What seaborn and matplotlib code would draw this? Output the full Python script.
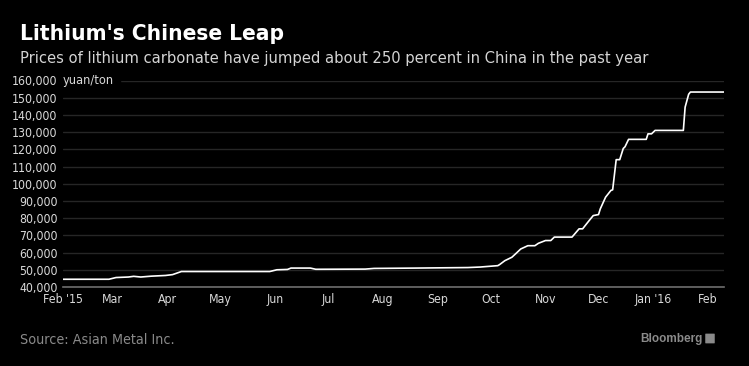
import pandas as pd
import matplotlib
matplotlib.use("Agg")
import matplotlib.pyplot as plt
from matplotlib.patches import FancyBboxPatch
import seaborn as sns

# price of lithium carbonate in China, yuan/ton
dates = [
    "2015-02-01", "2015-02-27", "2015-03-03", "2015-03-10", "2015-03-13",
    "2015-03-17", "2015-03-23", "2015-03-31", "2015-04-04", "2015-04-09",
    "2015-05-29", "2015-06-02", "2015-06-08", "2015-06-10", "2015-06-21",
    "2015-06-24", "2015-07-22", "2015-07-27", "2015-08-20", "2015-09-18",
    "2015-09-25", "2015-10-05", "2015-10-06", "2015-10-09", "2015-10-13",
    "2015-10-15", "2015-10-18", "2015-10-22", "2015-10-26", "2015-10-28",
    "2015-11-01", "2015-11-04", "2015-11-06", "2015-11-16", "2015-11-20",
    "2015-11-22", "2015-11-25", "2015-11-28", "2015-12-01", "2015-12-02",
    "2015-12-05", "2015-12-08", "2015-12-09", "2015-12-11", "2015-12-13",
    "2015-12-15", "2015-12-16", "2015-12-18", "2015-12-28", "2015-12-29",
    "2015-12-31", "2016-01-02", "2016-01-18", "2016-01-19", "2016-01-21",
    "2016-01-22", "2016-02-10",
]
prices = [
    44500, 44500, 45500, 45800, 46200,
    45800, 46300, 46700, 47200, 49000,
    49000, 50000, 50200, 51000, 51000,
    50300, 50400, 50800, 51000, 51300,
    51600, 52400, 53000, 55300, 57300,
    59200, 62100, 64000, 64000, 65400,
    67000, 67000, 69000, 69000, 73800,
    73800, 77700, 81500, 82100, 85400,
    92200, 96100, 96500, 114000, 114000,
    120500, 121500, 125800, 125800, 129000,
    129000, 131000, 131000, 144500, 152000,
    153300, 153300,
]

month_ticks = ["2015-02-01", "2015-03-01", "2015-04-01", "2015-05-01", "2015-06-01",
               "2015-07-01", "2015-08-01", "2015-09-01", "2015-10-01", "2015-11-01",
               "2015-12-01", "2016-01-01", "2016-02-01"]
month_labels = ["Feb '15", "Mar", "Apr", "May", "Jun", "Jul", "Aug", "Sep",
                "Oct", "Nov", "Dec", "Jan '16", "Feb"]
y_ticks = list(range(40000, 160001, 10000))

df = pd.DataFrame({"date": pd.to_datetime(dates), "price": prices})

sns.set_style("dark")
plt.rcParams["font.family"] = ["DejaVu Sans"]
plt.rcParams["font.stretch"] = "condensed"

fig = plt.figure(figsize=(7.49, 3.66), dpi=100, facecolor="black")
ax = fig.add_axes([63 / 749, 1 - 287 / 366, (724 - 63) / 749, (287 - 80.5) / 366])
ax.set_facecolor("black")

sns.lineplot(data=df, x="date", y="price", ax=ax, color="white", linewidth=1.2)

ax.set_xlim(pd.Timestamp("2015-02-01"), pd.Timestamp("2016-02-10"))
ax.set_ylim(40000, 160000)
ax.set_yticks(y_ticks)
ax.set_yticklabels([f"{v:,}" for v in y_ticks])
ax.set_xticks(pd.to_datetime(month_ticks))
ax.set_xticklabels(month_labels)

ax.grid(axis="y", color="#262626", linewidth=1)
ax.grid(axis="x", visible=False)
for side in ["top", "right", "left"]:
    ax.spines[side].set_visible(False)
ax.spines["bottom"].set_color("#6e6e6e")
ax.spines["bottom"].set_linewidth(1.2)
ax.tick_params(axis="y", length=0, pad=4, labelsize=8.8, labelcolor="#d9d9d9")
ax.tick_params(axis="x", direction="in", length=3, color="#6e6e6e", pad=4,
               labelsize=8.8, labelcolor="#d9d9d9")
ax.set_xlabel("")
ax.set_ylabel("")

ax.text(0.0, 160000, "yuan/ton", transform=ax.get_yaxis_transform(),
        ha="left", va="center", fontsize=9.2, color="#d9d9d9",
        backgroundcolor="black")

fig.text(20 / 749, 1 - 40 / 366, "Lithium's Chinese Leap", fontsize=16.2,
         fontweight="bold", color="white", ha="left", va="baseline")
fig.text(20 / 749, 1 - 62.5 / 366,
         "Prices of lithium carbonate have jumped about 250 percent in China in the past year",
         fontsize=11.8, color="#d4d4d4", ha="left", va="baseline")
fig.text(20 / 749, 1 - 344 / 366, "Source: Asian Metal Inc.", fontsize=10.3,
         color="#8a8a8a", ha="left", va="baseline")
fig.text(703 / 749, 1 - 342 / 366, "Bloomberg", fontsize=8.5, fontweight="bold",
         color="#8a8a8a", ha="right", va="baseline",
         family=["Liberation Sans", "DejaVu Sans"], fontstretch="normal")
fig.patches.append(FancyBboxPatch((706 / 749, 1 - 343 / 366), 8 / 749, 9 / 366,
                                  boxstyle="round,pad=0.001", transform=fig.transFigure,
                                  facecolor="#8a8a8a", edgecolor="none"))

fig.savefig("out.png", dpi=100, facecolor="black")
